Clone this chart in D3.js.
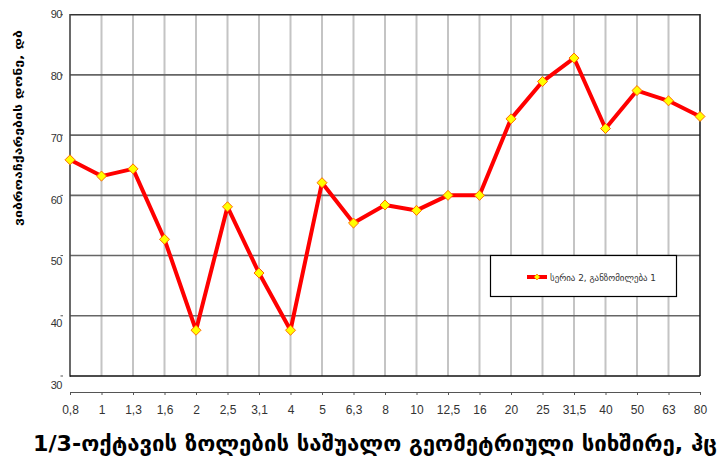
<!DOCTYPE html>
<html>
<head>
<meta charset="utf-8">
<script src="https://cdn.jsdelivr.net/npm/d3@7"></script>
<style>
  body { margin: 0; background: #fff; }
  svg { display: block; }
</style>
</head>
<body>
<div id="chart"></div>
<script>
// ======= chart data
var bands = ["0,8", "1", "1,3", "1,6", "2", "2,5", "3,1", "4", "5", "6,3", "8",
             "10", "12,5", "16", "20", "25", "31,5", "40", "50", "63", "80"];
var levels = [65.9, 63.2, 64.4, 52.7, 37.6, 58.1, 47.1, 37.6, 62.1, 55.4, 58.4,
              57.5, 60.0, 60.0, 72.7, 78.9, 82.8, 71.1, 77.4, 75.7, 73.1];
var yTicks = [30, 40, 50, 60, 70, 80, 90];
var seriesName = "სერია 2, განზომილება 1";
var xTitle = "1/3-ოქტავის ზოლების საშუალო გეომეტრიული სიხშირე, ჰც";
var yTitle = "ვიბროაჩქარების დონე, დბ";

var W = 723, H = 462;
var pLeft = 70, pRight = 700, pTop = 14.7, pBottom = 376;

var svg = d3.select("#chart").append("svg")
  .attr("width", W)
  .attr("height", H);

// ======= scales
var x = d3.scalePoint().domain(bands).range([pLeft, pRight]);
var y = d3.scaleLinear().domain([30, 90]).range([pBottom, pTop]);
// labels drift a little below the grid lines in the original
var yLab = d3.scaleLinear().domain([30, 90]).range([385, 14]);

// ======= vertical grid lines
svg.selectAll("line.vgrid")
  .data(bands.slice(1, -1))
  .enter()
  .append("line")
  .attr("x1", function(d) { return x(d); })
  .attr("x2", function(d) { return x(d); })
  .attr("y1", pTop)
  .attr("y2", pBottom)
  .attr("stroke", "#c4c4c4")
  .attr("stroke-width", 2);

// ======= horizontal grid lines
svg.selectAll("line.hgrid")
  .data(yTicks.slice(1))
  .enter()
  .append("line")
  .attr("x1", pLeft)
  .attr("x2", pRight)
  .attr("y1", function(d) { return y(d); })
  .attr("y2", function(d) { return y(d); })
  .attr("stroke", function(d) { return d == 90 ? "#333" : "#666"; })
  .attr("stroke-width", 1.6);

// right border, left axis, bottom line
svg.append("line").attr("x1", pRight).attr("x2", pRight).attr("y1", pTop - 0.8).attr("y2", pBottom)
  .attr("stroke", "#222").attr("stroke-width", 1.6);
svg.append("line").attr("x1", pLeft).attr("x2", pLeft).attr("y1", pTop - 0.8).attr("y2", pBottom + 0.8)
  .attr("stroke", "#444").attr("stroke-width", 1.6);
svg.append("line").attr("x1", pLeft).attr("x2", pRight).attr("y1", pBottom).attr("y2", pBottom)
  .attr("stroke", "#111").attr("stroke-width", 1.6);

// ======= y tick marks and labels
svg.selectAll("line.ytick")
  .data(yTicks)
  .enter()
  .append("line")
  .attr("x1", 60.5)
  .attr("x2", 63)
  .attr("y1", function(d) { return y(d); })
  .attr("y2", function(d) { return y(d); })
  .attr("stroke", "#555")
  .attr("stroke-width", 1);

svg.selectAll("text.ylab")
  .data(yTicks)
  .enter()
  .append("text")
  .text(function(d) { return d; })
  .attr("x", 62)
  .attr("y", function(d) { return yLab(d) + 4; })
  .attr("text-anchor", "end")
  .attr("fill", "#333")
  .attr("font-family", "Liberation Sans, Arial, sans-serif")
  .attr("font-size", "11px")
  .attr("letter-spacing", "-0.5px");

// ======= separate category axis below the plot
var xAxis = svg.append("g")
  .attr("transform", "translate(0,392)")
  .call(d3.axisBottom(x).tickSize(3).tickSizeOuter(0).tickPadding(10));
xAxis.select(".domain").attr("stroke", "#555").attr("stroke-width", 1.2);
xAxis.selectAll(".tick line").attr("stroke", "#555");
xAxis.selectAll(".tick text")
  .attr("fill", "#333")
  .attr("font-family", "Liberation Sans, Arial, sans-serif")
  .attr("font-size", "12px");

// ======= series line
var line = d3.line()
  .x(function(d, j) { return x(bands[j]); })
  .y(function(d) { return y(d); });

svg.append("path")
  .datum(levels)
  .attr("d", line)
  .attr("fill", "none")
  .attr("stroke", "#ff0000")
  .attr("stroke-width", 4)
  .attr("stroke-linejoin", "round");

var diamond = d3.symbol().type(d3.symbolDiamond2).size(64);

svg.selectAll("path.mark")
  .data(levels)
  .enter()
  .append("path")
  .attr("d", diamond)
  .attr("transform", function(d, j) {
    return "translate(" + x(bands[j]) + "," + y(d) + ")";
  })
  .attr("fill", "#ffff00")
  .attr("stroke", "#ff6a00")
  .attr("stroke-width", 1);

// ======= legend
var lg = svg.append("g");
lg.append("rect")
  .attr("x", 490.5).attr("y", 255.5)
  .attr("width", 186).attr("height", 41)
  .attr("fill", "#fff")
  .attr("stroke", "#000")
  .attr("stroke-width", 1.2);
lg.append("line")
  .attr("x1", 527).attr("x2", 547).attr("y1", 277).attr("y2", 277)
  .attr("stroke", "#ff0000").attr("stroke-width", 4);
lg.append("path")
  .attr("d", d3.symbol().type(d3.symbolDiamond2).size(22))
  .attr("transform", "translate(537,277)")
  .attr("fill", "#ffff00").attr("stroke", "#ff6a00").attr("stroke-width", 0.8);
lg.append("text")
  .text(seriesName)
  .attr("x", 550)
  .attr("y", 281)
  .attr("fill", "#333")
  .attr("font-family", "DejaVu Sans, sans-serif")
  .attr("font-size", "9.5px")
  .attr("textLength", 106)
  .attr("lengthAdjust", "spacingAndGlyphs");

// ======= axis titles
svg.append("text")
  .text(xTitle)
  .attr("x", 375)
  .attr("y", 451)
  .attr("text-anchor", "middle")
  .attr("fill", "#000")
  .attr("font-family", "DejaVu Sans, sans-serif")
  .attr("font-weight", "bold")
  .attr("font-size", "21px")
  .attr("textLength", 684)
  .attr("lengthAdjust", "spacingAndGlyphs");

svg.append("text")
  .text(yTitle)
  .attr("transform", "translate(22,128) rotate(-90)")
  .attr("text-anchor", "middle")
  .attr("fill", "#000")
  .attr("font-family", "DejaVu Sans, sans-serif")
  .attr("font-weight", "bold")
  .attr("font-size", "11px")
  .attr("textLength", 196)
  .attr("lengthAdjust", "spacingAndGlyphs");
</script>
</body>
</html>
